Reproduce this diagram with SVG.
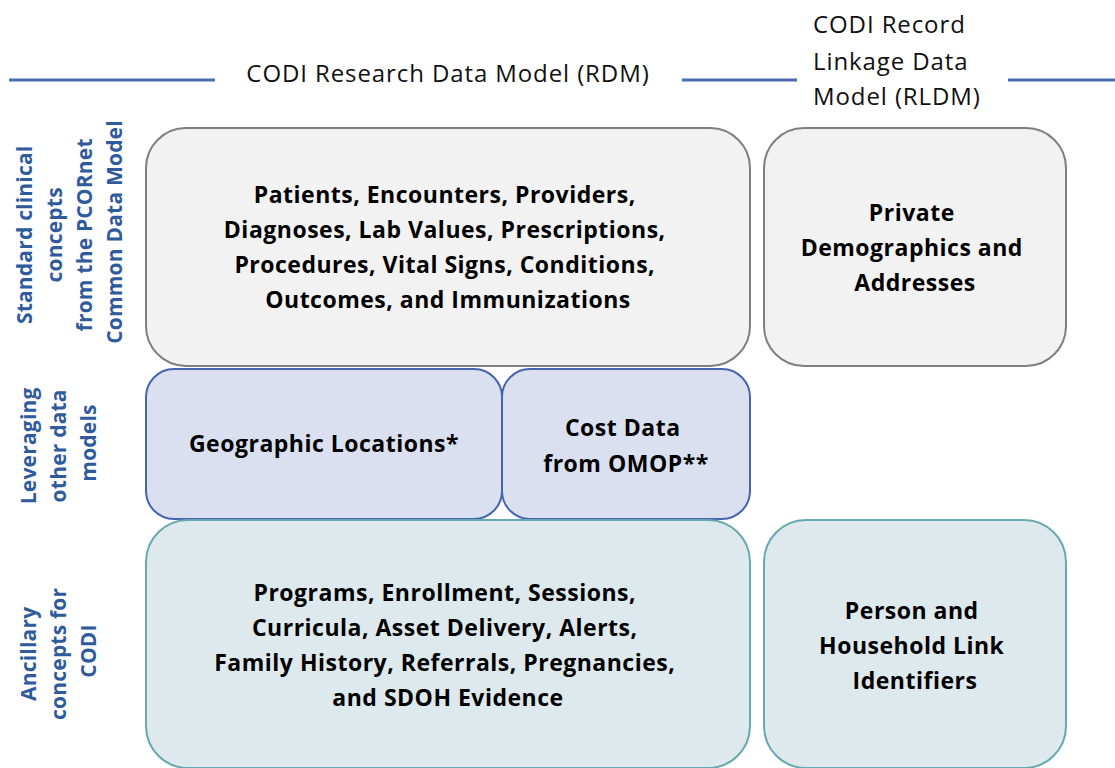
<svg xmlns="http://www.w3.org/2000/svg" width="1115" height="768" viewBox="0 0 1115 768">
  <style>
    .head { font-family: "Open Sans", "Liberation Sans", Arial, sans-serif; font-size: 24px; letter-spacing: 0.9px; fill: #111; }
    .side { font-family: "Open Sans", "Liberation Sans", Arial, sans-serif; font-size: 21px; letter-spacing: 0.2px; font-weight: bold; fill: #2f5b9c; text-anchor: middle; }
    .lbl { font-family: "Open Sans", "Liberation Sans", Arial, sans-serif; font-size: 23px; letter-spacing: 0.5px; font-weight: bold; fill: #000; text-anchor: middle; }
    .rule { stroke: #4a6bb7; stroke-width: 3; }
    .gray { fill: #f2f2f2; stroke: #7f7f7f; stroke-width: 2; }
    .blue { fill: #dae0f0; stroke: #4565ae; stroke-width: 2; }
    .teal { fill: #dde9ec; stroke: #68a8b1; stroke-width: 2; }
  </style>
  <rect width="1115" height="768" fill="#ffffff"/>

  <!-- column headings with divider rules -->
  <g id="headings">
    <line class="rule" x1="9" y1="80" x2="215" y2="80"/>
    <line class="rule" x1="682" y1="80" x2="797" y2="80"/>
    <line class="rule" x1="1008" y1="80" x2="1115" y2="80"/>
    <text class="head" x="448" y="82" text-anchor="middle">CODI Research Data Model (RDM)</text>
    <text class="head" x="813" y="33">CODI Record</text>
    <text class="head" x="813" y="70">Linkage Data</text>
    <text class="head" x="813" y="105">Model (RLDM)</text>
  </g>

  <!-- row labels, rotated -->
  <g id="row-labels">
    <text class="side" transform="translate(0,232) rotate(-90)">
      <tspan x="0" y="32">Standard clinical</tspan>
      <tspan x="0" y="62">concepts</tspan>
      <tspan x="0" y="92">from the PCORnet</tspan>
      <tspan x="0" y="122">Common Data Model</tspan>
    </text>
    <text class="side" transform="translate(0,443) rotate(-90)">
      <tspan x="0" y="36">Leveraging</tspan>
      <tspan x="0" y="66">other data</tspan>
      <tspan x="0" y="96">models</tspan>
    </text>
    <text class="side" transform="translate(0,651) rotate(-90)">
      <tspan x="0" y="36">Ancillary</tspan>
      <tspan x="0" y="66">concepts for</tspan>
      <tspan x="0" y="96">CODI</tspan>
    </text>
  </g>

  <g id="pcornet-concepts">
    <rect class="gray" x="146" y="128" width="604" height="238" rx="40" ry="40"/>
    <text class="lbl">
      <tspan x="448" y="203">Patients, Encounters, Providers,</tspan>
      <tspan x="448" y="238">Diagnoses, Lab Values, Prescriptions,</tspan>
      <tspan x="448" y="273">Procedures, Vital Signs, Conditions,</tspan>
      <tspan x="448" y="308">Outcomes, and Immunizations</tspan>
    </text>
  </g>

  <g id="private-demographics">
    <rect class="gray" x="764" y="128" width="302" height="238" rx="40" ry="40"/>
    <text class="lbl">
      <tspan x="915" y="221">Private</tspan>
      <tspan x="915" y="256">Demographics and</tspan>
      <tspan x="915" y="291">Addresses</tspan>
    </text>
  </g>

  <g id="geographic-locations">
    <rect class="blue" x="146" y="369" width="356" height="150" rx="28" ry="28"/>
    <text class="lbl" x="324" y="452">Geographic Locations*</text>
  </g>

  <g id="cost-data">
    <rect class="blue" x="502" y="369" width="248" height="150" rx="28" ry="28"/>
    <text class="lbl">
      <tspan x="626" y="436">Cost Data</tspan>
      <tspan x="626" y="472">from OMOP**</tspan>
    </text>
  </g>

  <g id="ancillary-concepts">
    <rect class="teal" x="146" y="520" width="604" height="248" rx="42" ry="42"/>
    <text class="lbl">
      <tspan x="448" y="601">Programs, Enrollment, Sessions,</tspan>
      <tspan x="448" y="636">Curricula, Asset Delivery, Alerts,</tspan>
      <tspan x="448" y="671">Family History, Referrals, Pregnancies,</tspan>
      <tspan x="448" y="706">and SDOH Evidence</tspan>
    </text>
  </g>

  <g id="link-identifiers">
    <rect class="teal" x="764" y="520" width="302" height="248" rx="42" ry="42"/>
    <text class="lbl">
      <tspan x="915" y="619">Person and</tspan>
      <tspan x="915" y="654">Household Link</tspan>
      <tspan x="915" y="689">Identifiers</tspan>
    </text>
  </g>

  <g id="connectors"/>
</svg>
